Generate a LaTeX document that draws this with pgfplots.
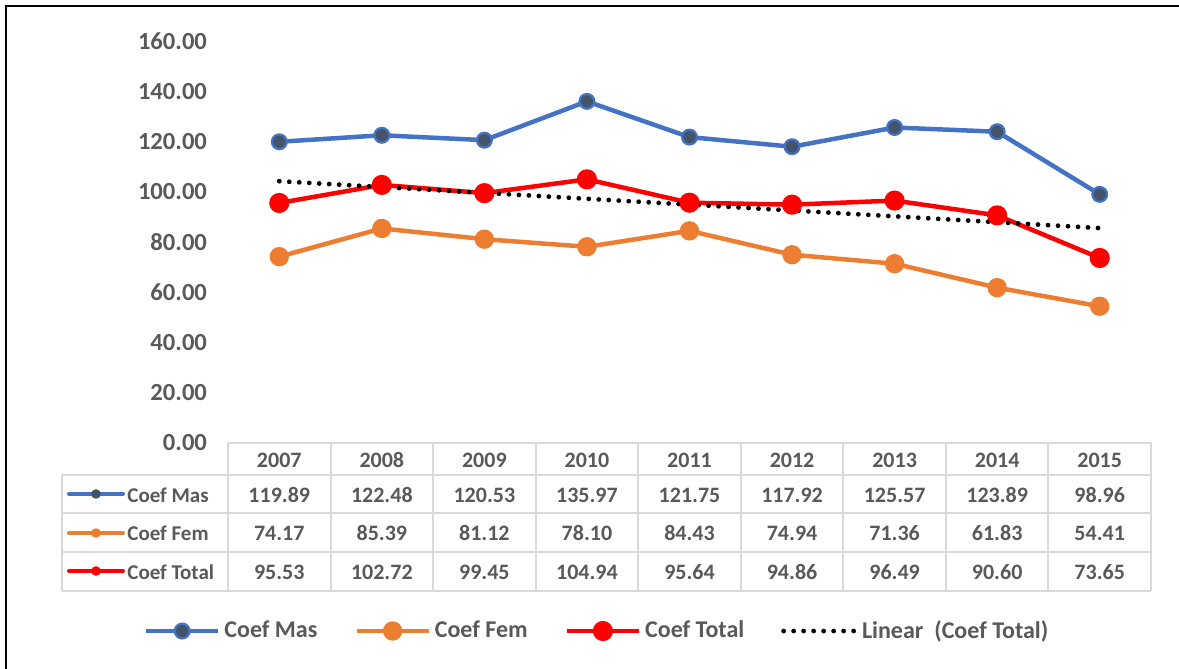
\documentclass[border=0pt]{standalone}
\usepackage{pgfplots}
\pgfplotsset{compat=1.18}
\usepackage{pgfplotstable}
\usepackage{fontspec}
\setmainfont{Carlito}
\definecolor{cblue}{HTML}{4472C4}
\definecolor{corange}{HTML}{ED7D31}
\definecolor{cred}{HTML}{FF0000}
\definecolor{cmark}{HTML}{44546A}
\definecolor{tgray}{HTML}{595959}
\definecolor{lgray}{HTML}{D9D9D9}

\pgfplotstableread{
idx year mas fem total
0 2007 119.89 74.17 95.53
1 2008 122.48 85.39 102.72
2 2009 120.53 81.12 99.45
3 2010 135.97 78.10 104.94
4 2011 121.75 84.43 95.64
5 2012 117.92 74.94 94.86
6 2013 125.57 71.36 96.49
7 2014 123.89 61.83 90.60
8 2015 98.96 54.41 73.65
}\datatable

\begin{document}
\begin{tikzpicture}
\useasboundingbox (0,0) rectangle (589.5pt,-334.5pt);
\begin{scope}[x=0.5pt,y=-0.5pt]
\draw[black, line width=1.1pt] (6,669) -- (6,6) -- (1179,6);
% table grid
\begin{scope}[lgray, line width=1pt]
\draw (228,443) -- (1151,443);
\foreach \yy in {475,513,552,591} \draw (62,\yy) -- (1151,\yy);
\draw (62,475) -- (62,591);
\foreach \k in {0,...,9} \draw ({228+\k*102.556},443) -- ({228+\k*102.556},591);
\end{scope}
% table text
\foreach \i in {0,...,8}{
  \pgfmathsetmacro{\cx}{228+(\i+0.5)*102.556}
  \pgfplotstablegetelem{\i}{year}\of\datatable
  \node[text=tgray, font=\fontsize{11}{13}\selectfont\bfseries] at (\cx,460) {\pgfplotsretval};
  \pgfplotstablegetelem{\i}{mas}\of\datatable
  \node[text=tgray, font=\fontsize{11}{13}\selectfont\bfseries] at (\cx,495) {\pgfplotsretval};
  \pgfplotstablegetelem{\i}{fem}\of\datatable
  \node[text=tgray, font=\fontsize{11}{13}\selectfont\bfseries] at (\cx,533) {\pgfplotsretval};
  \pgfplotstablegetelem{\i}{total}\of\datatable
  \node[text=tgray, font=\fontsize{11}{13}\selectfont\bfseries] at (\cx,572) {\pgfplotsretval};
}
% row keys
\draw[cblue, line width=2pt, line cap=round] (69,494) -- (123,494);
\fill[cmark] (96,494) circle (2.4pt);
\draw[corange, line width=2pt, line cap=round] (69,533) -- (123,533);
\fill[corange] (96,533) circle (2.4pt);
\draw[cred, line width=2pt, line cap=round] (69,571) -- (123,571);
\fill[cred] (96,571) circle (2.4pt);
\node[anchor=west, inner sep=0pt, text=tgray, font=\fontsize{10.5}{12}\selectfont\bfseries] at (127,495) {Coef Mas};
\node[anchor=west, inner sep=0pt, text=tgray, font=\fontsize{10.5}{12}\selectfont\bfseries] at (127,533) {Coef Fem};
\node[anchor=west, inner sep=0pt, text=tgray, font=\fontsize{10.5}{12}\selectfont\bfseries] at (127,572) {Coef Total};
\end{scope}

\begin{axis}[
  at={(114pt,-221.5pt)}, anchor=south west,
  scale only axis, width=461.5pt, height=201pt,
  xmin=-0.5, xmax=8.5, ymin=0, ymax=160,
  axis line style={draw=none},
  xtick=\empty, ytick={0,20,...,160},
  major tick length=0pt,
  yticklabel style={font=\fontsize{12.3}{14}\selectfont\bfseries, text=tgray, xshift=-7pt,
    /pgf/number format/.cd, fixed, fixed zerofill, precision=2, assume math mode=true},
  clip=false,
  legend columns=4,
  legend style={at={(axis description cs:-0.0915,-0.4677)}, anchor=west, draw=none, fill=none,
    inner sep=0pt, font=\fontsize{12}{14}\selectfont\bfseries, text=tgray,
    /tikz/every even column/.append style={column sep=16.5pt}},
  legend image code/.code={\draw[mark repeat=2, mark phase=2, #1] plot coordinates {(0pt,0pt) (18pt,0pt) (36pt,0pt)};},
]
\addplot[cblue, line width=2.25pt, mark=*, mark size=3.7pt, mark options={fill=cmark, draw=cblue, line width=1.1pt}] table[x=idx,y=mas]{\datatable};
\addlegendentry{Coef Mas}
\addplot[corange, line width=2.25pt, mark=*, mark size=3.7pt, mark options={fill=corange, draw=corange}] table[x=idx,y=fem]{\datatable};
\addlegendentry{Coef Fem}
\addplot[cred, line width=2.25pt, mark=*, mark size=3.9pt, mark options={fill=cred, draw=cred}] table[x=idx,y=total]{\datatable};
\addlegendentry{Coef Total}
\addplot[black, line width=2.4pt, line cap=round, dash pattern=on 0pt off 5pt] coordinates {(0,104.20) (8,85.55)};
\addlegendentry{Linear\ \ (Coef Total)}
\end{axis}
\end{tikzpicture}
\end{document}
